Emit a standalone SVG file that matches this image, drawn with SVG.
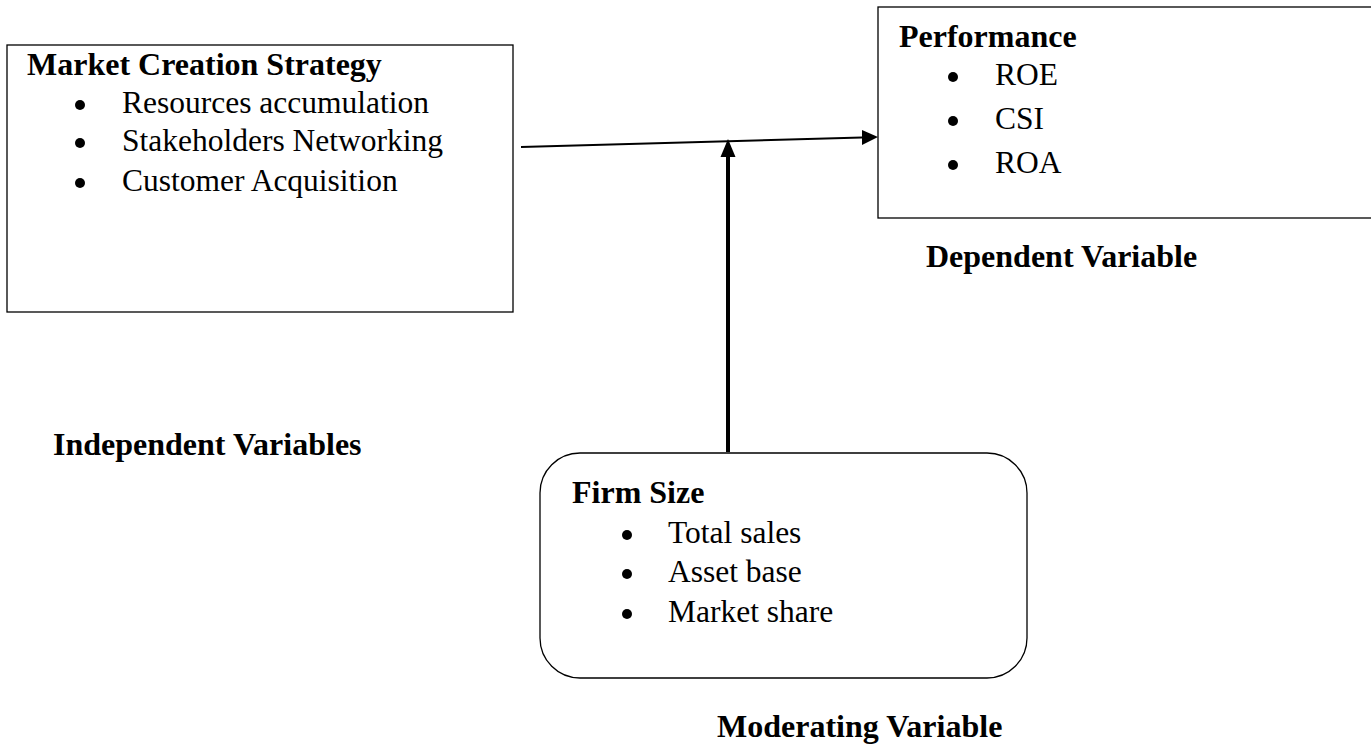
<svg xmlns="http://www.w3.org/2000/svg" width="1371" height="753" viewBox="0 0 1371 753">
<defs>
<style>
text{font-family:"Liberation Serif","Times New Roman",serif;font-size:31.5px;fill:#000}
.b{font-weight:bold;font-size:32px}
.box{fill:#fff;stroke:#000;stroke-width:1.3}
</style>
</defs>
<rect width="1371" height="753" fill="#fff"/>
<g id="connectors">
<line x1="521" y1="147" x2="862" y2="137.5" stroke="#000" stroke-width="2"/>
<path d="M878,137 L862,130 L862,145 Z" fill="#000"/>
<line x1="728" y1="452" x2="728" y2="156" stroke="#000" stroke-width="4"/>
<path d="M728,139 L720.5,157 L735.5,157 Z" fill="#000"/>
</g>
<g id="independent">
<rect class="box" x="7" y="45" width="506" height="267"/>
<text class="b" x="27" y="75">Market Creation Strategy</text>
<circle cx="80" cy="105" r="5"/><text x="122" y="113">Resources accumulation</text>
<circle cx="80" cy="143" r="5"/><text x="122" y="151">Stakeholders Networking</text>
<circle cx="80" cy="183" r="5"/><text x="122" y="191">Customer Acquisition</text>
</g>
<g id="dependent">
<rect class="box" x="878" y="7" width="500" height="211"/>
<text class="b" x="899" y="47">Performance</text>
<circle cx="953" cy="77" r="5"/><text x="995" y="85">ROE</text>
<circle cx="953" cy="121" r="5"/><text x="995" y="129">CSI</text>
<circle cx="953" cy="165" r="5"/><text x="995" y="173">ROA</text>
</g>
<g id="moderating">
<rect class="box" x="540" y="453" width="487" height="225" rx="40" ry="40"/>
<text class="b" x="572" y="503">Firm Size</text>
<circle cx="627" cy="535" r="5"/><text x="668" y="543">Total sales</text>
<circle cx="627" cy="574" r="5"/><text x="668" y="582">Asset base</text>
<circle cx="627" cy="614" r="5"/><text x="668" y="622">Market share</text>
</g>
<g id="labels">
<text class="b" x="926" y="267">Dependent Variable</text>
<text class="b" x="53" y="455">Independent Variables</text>
<text class="b" x="717" y="737">Moderating Variable</text>
</g>
</svg>
